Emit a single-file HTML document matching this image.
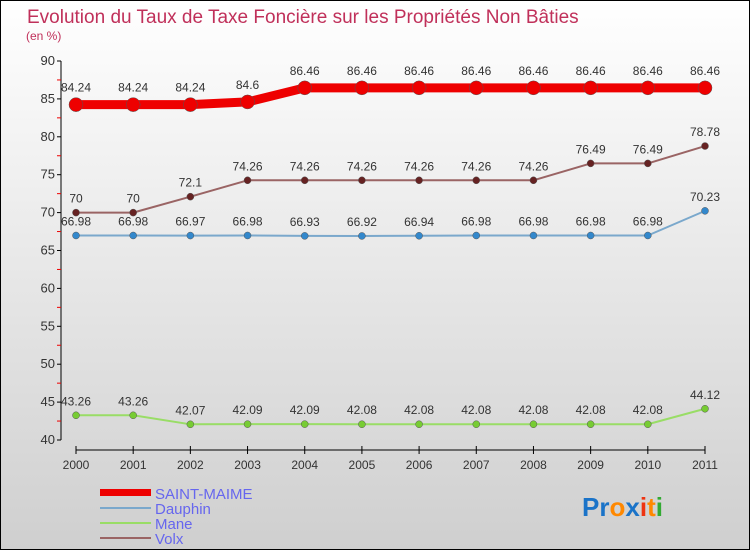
<!DOCTYPE html>
<html><head><meta charset="utf-8"><style>
body{margin:0;width:750px;height:550px;overflow:hidden;font-family:"Liberation Sans",sans-serif}
</style></head><body>
<svg width="750" height="550" id="c" font-family="Liberation Sans, sans-serif">
<defs><linearGradient id="bg" x1="0" y1="0" x2="0" y2="1"><stop offset="0" stop-color="#ffffff"/><stop offset="1" stop-color="#cfcfcf"/></linearGradient></defs>
<rect x="0.5" y="0.5" width="749" height="549" fill="url(#bg)" stroke="#000"/>
<text x="27" y="23" font-size="19" fill="#c0305a">Evolution du Taux de Taxe Foncière sur les Propriétés Non Bâties</text>
<text x="26" y="40" font-size="12" fill="#c0305a">(en %)</text>
<g id="axes"></g><g id="series"></g>
<g font-size="15" fill="#6666ee">
<rect x="100" y="489" width="51" height="7" fill="#e00"/>
<text x="155" y="499">SAINT-MAIME</text>
<rect x="100" y="507" width="51" height="2" fill="#7aa8cc"/>
<text x="155" y="514">Dauphin</text>
<rect x="100" y="522" width="51" height="2" fill="#99dd66"/>
<text x="155" y="529">Mane</text>
<rect x="100" y="537" width="51" height="2" fill="#9a6464"/>
<text x="155" y="544">Volx</text>
</g>
<g font-size="26" font-weight="bold">
<text x="582" y="516"><tspan fill="#1a73c8">Pr</tspan><tspan fill="#ff8800">o</tspan><tspan fill="#1a73c8">x</tspan><tspan fill="#ee3311">i</tspan><tspan fill="#ff8800">t</tspan><tspan fill="#33aa33">i</tspan></text>
</g>
</svg>
<script>
const years=["2000","2001","2002","2003","2004","2005","2006","2007","2008","2009","2010","2011"];
const yTicks=[40,45,50,55,60,65,70,75,80,85,90];
const saintMaime=[84.24,84.24,84.24,84.6,86.46,86.46,86.46,86.46,86.46,86.46,86.46,86.46];
const dauphin=[66.98,66.98,66.97,66.98,66.93,66.92,66.94,66.98,66.98,66.98,66.98,70.23];
const mane=[43.26,43.26,42.07,42.09,42.09,42.08,42.08,42.08,42.08,42.08,42.08,44.12];
const volx=[70,70,72.1,74.26,74.26,74.26,74.26,74.26,74.26,76.49,76.49,78.78];
const NS="http://www.w3.org/2000/svg";
const x=i=>76+i*(705-76)/(years.length-1);
const y=v=>440-(v-40)*(440-61)/50;
function mk(p,t,a){const e=document.createElementNS(NS,t);for(const k in a)e.setAttribute(k,a[k]);p.appendChild(e);return e;}
const ax=document.getElementById('axes');
const yl=mk(ax,'line',{x1:61,y1:61,x2:61,y2:440,stroke:'#000'});


const xl=mk(ax,'line',{x1:76,y1:450,x2:705,y2:450,stroke:'#000'});


yTicks.forEach((v,k)=>{
  mk(ax,'line',{x1:57,y1:y(v),x2:61,y2:y(v),stroke:'#000'});
  if(k<yTicks.length-1)mk(ax,'line',{x1:57,y1:y(v+2.5),x2:61,y2:y(v+2.5),stroke:'#e00'});
  const t=mk(ax,'text',{x:55,y:y(v)+4,'text-anchor':'end','font-size':13,fill:'#333'});
  t.textContent=v;
  
  
});
years.forEach((yr,i)=>{
  mk(ax,'line',{x1:x(i),y1:446,x2:x(i),y2:454,stroke:'#000'});
  const t=mk(ax,'text',{x:x(i),y:469,'text-anchor':'middle','font-size':12,fill:'#333'});
  t.textContent=yr;
  
  
});
const sg=document.getElementById('series');
function draw(vals,name,color,dot,w,r,off){
  const g=mk(sg,'g',{});
  
  
  mk(g,'polyline',{points:vals.map((v,i)=>x(i)+','+y(v)).join(' '),fill:'none',stroke:color,'stroke-width':w,'stroke-linejoin':'round'});
  vals.forEach((v,i)=>{
    const c=mk(g,'circle',{cx:x(i),cy:y(v),r:r,fill:dot,stroke:'#555','stroke-width':0.5});
    
    
    const t=mk(g,'text',{x:x(i),y:y(v)-off,'text-anchor':'middle','font-size':12,fill:'#333'});
    t.textContent=v;
    
    
  });
}
draw(mane,'mane','#99dd66','#77cc33',2,3.5,10);
draw(dauphin,'dauphin','#7aa8cc','#3388cc',2,3.5,10);
draw(volx,'volx','#9a6464','#662222',2,3.5,10);
draw(saintMaime,'saint-maime','#e00','#e00',9,7,13);
</script>
</body></html>
